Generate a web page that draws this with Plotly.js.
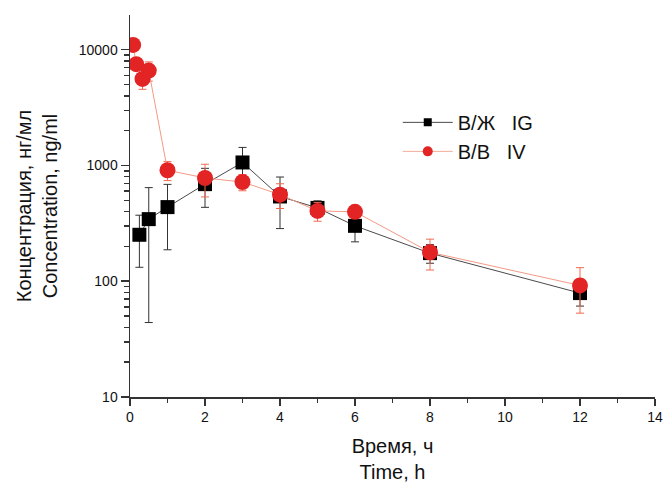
<!DOCTYPE html>
<html>
<head>
<meta charset="utf-8">
<script src="https://cdn.plot.ly/plotly-3.0.1.min.js"></script>
<style>html,body{margin:0;padding:0;background:#fff;}</style>
</head>
<body>
<div id="chart" style="width:664px;height:484px;"></div>
<script>
// Intragastric (В/Ж IG)
const timeIG = [0.25, 0.5, 1, 2, 3, 4, 5, 6, 8, 12];
const concIG = [252, 344, 437, 690, 1062, 540, 430, 301, 175, 79];
const sdIG   = [120, 300, 250, 255, 370, 255, 65, 82, 32, 18];

// Intravenous (В/В IV)
const timeIV = [0.083, 0.167, 0.333, 0.5, 1, 2, 3, 4, 5, 6, 8, 12];
const concIV = [11000, 7500, 5600, 6600, 910, 780, 720, 560, 405, 398, 178, 92];
const sdIV   = [600, 500, 1050, 1250, 170, 245, 115, 135, 75, 50, 53, 39];

const nameIG = 'В/Ж\u00A0\u00A0\u00A0IG';
const nameIV = 'В/В\u00A0\u00A0\u00A0IV';

const xTicks = [0, 2, 4, 6, 8, 10, 12, 14];
const yTicks = [10, 100, 1000, 10000];

const traces = [
  {
    x: timeIG, y: concIG, type: 'scatter', mode: 'lines+markers', showlegend: false,
    line: {color: '#4a4a4a', width: 1},
    marker: {symbol: 'square', size: 14, color: '#000'},
    error_y: {type: 'data', array: sdIG, visible: true, color: '#333', thickness: 1, width: 4}
  },
  {
    x: timeIV, y: concIV, type: 'scatter', mode: 'lines+markers', showlegend: false,
    line: {color: '#f39a85', width: 1},
    marker: {symbol: 'circle', size: 16, color: '#e32424'},
    error_y: {type: 'data', array: sdIV, visible: true, color: '#f06a50', thickness: 1, width: 4}
  },
  {
    x: [null], y: [null], type: 'scatter', mode: 'lines+markers', name: nameIG,
    line: {color: '#4a4a4a', width: 1},
    marker: {symbol: 'square', size: 8, color: '#000'}
  },
  {
    x: [null], y: [null], type: 'scatter', mode: 'lines+markers', name: nameIV,
    line: {color: '#f5ab98', width: 1},
    marker: {symbol: 'circle', size: 10, color: '#e32424'}
  }
];

const layout = {
  width: 664, height: 484,
  margin: {l: 130, r: 9, t: 15, b: 87},
  paper_bgcolor: '#fff', plot_bgcolor: '#fff',
  font: {family: 'Liberation Sans, Arial, sans-serif', color: '#111'},
  showlegend: true,
  legend: {
    x: 0.51, y: 0.77, xanchor: 'left', yanchor: 'top',
    font: {size: 20, color: '#111'},
    bgcolor: 'rgba(0,0,0,0)', itemwidth: 50, tracegroupgap: 0
  },
  xaxis: {
    range: [0, 14], tickvals: xTicks, ticktext: xTicks.map(String),
    showgrid: false, zeroline: false, showline: true, linecolor: '#333', linewidth: 1.5,
    ticks: 'outside', ticklen: 7, tickwidth: 1.5, tickcolor: '#333',
    tickfont: {size: 14, color: '#111'},
    minor: {dtick: 1, ticks: 'outside', ticklen: 4, tickwidth: 1.5, tickcolor: '#333', showgrid: false},
    title: {text: 'Время, ч<br>Time, h', font: {size: 20, color: '#111'}, standoff: 14},
    automargin: false
  },
  yaxis: {
    type: 'log', range: [1, 4.30], tickvals: yTicks, ticktext: yTicks.map(String),
    showgrid: false, zeroline: false, showline: true, linecolor: '#333', linewidth: 1.5,
    ticks: 'outside', ticklen: 8, tickwidth: 1.5, tickcolor: '#333',
    tickfont: {size: 14, color: '#111'},
    minor: {dtick: 'D1', ticks: 'outside', ticklen: 5, tickwidth: 1.5, tickcolor: '#333', showgrid: false},
    title: {text: 'Концентрация, нг/мл<br>Concentration, ng/ml', font: {size: 20, color: '#111'}, standoff: 16},
    automargin: false
  }
};

Plotly.newPlot('chart', traces, layout, {displayModeBar: false, staticPlot: true});
</script>
</body>
</html>
